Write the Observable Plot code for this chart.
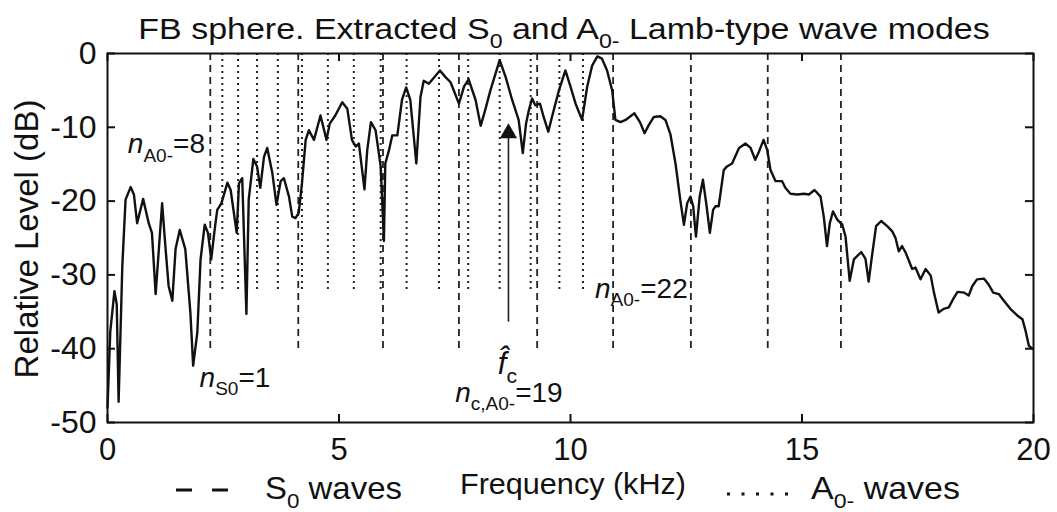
<!DOCTYPE html>
<html>
<head>
<meta charset="utf-8">
<script src="https://cdn.jsdelivr.net/npm/d3@7"></script>
<script src="https://cdn.jsdelivr.net/npm/@observablehq/plot@0.6"></script>
<style>
  html, body { margin: 0; padding: 0; background: #fff; }
  #chart svg { display: block; }
</style>
</head>
<body>
<div id="chart"></div>
<script>
// ---- Data ----
const freq = [0, 0.06, 0.15, 0.2, 0.24, 0.32, 0.39, 0.5, 0.57, 0.64, 0.77, 0.89, 0.96, 1.04, 1.18, 1.25, 1.32, 1.40, 1.47, 1.56, 1.68, 1.79, 1.85, 1.94, 2.01, 2.10, 2.17, 2.24, 2.31, 2.37, 2.46, 2.59, 2.66, 2.79, 2.84, 2.91, 3.0, 3.05, 3.15, 3.23, 3.30, 3.38, 3.45, 3.56, 3.65, 3.74, 3.81, 3.92, 3.99, 4.06, 4.13, 4.20, 4.28, 4.35, 4.46, 4.6, 4.73, 4.80, 4.92, 5.07, 5.18, 5.28, 5.36, 5.43, 5.55, 5.61, 5.69, 5.79, 5.90, 5.97, 6.0, 6.08, 6.15, 6.26, 6.36, 6.45, 6.54, 6.67, 6.76, 6.83, 6.94, 7.18, 7.30, 7.41, 7.59, 7.70, 7.80, 7.95, 8.06, 8.16, 8.27, 8.47, 8.60, 8.74, 8.88, 8.97, 9.04, 9.10, 9.17, 9.24, 9.34, 9.42, 9.52, 9.60, 9.75, 9.89, 10.0, 10.11, 10.25, 10.36, 10.47, 10.58, 10.68, 10.79, 10.9, 10.97, 11.08, 11.19, 11.38, 11.5, 11.6, 11.69, 11.8, 11.94, 12.05, 12.16, 12.27, 12.37, 12.45, 12.52, 12.59, 12.65, 12.71, 12.79, 12.86, 12.94, 13.01, 13.08, 13.13, 13.2, 13.31, 13.38, 13.49, 13.64, 13.78, 13.89, 13.99, 14.07, 14.17, 14.25, 14.32, 14.43, 14.57, 14.64, 14.75, 14.9, 15.04, 15.15, 15.27, 15.4, 15.47, 15.54, 15.6, 15.67, 15.76, 15.87, 15.94, 16.03, 16.12, 16.28, 16.37, 16.44, 16.51, 16.6, 16.71, 16.84, 16.95, 17.02, 17.09, 17.16, 17.24, 17.38, 17.45, 17.56, 17.67, 17.78, 17.85, 17.95, 18.06, 18.17, 18.28, 18.36, 18.5, 18.6, 18.68, 18.78, 18.93, 19.03, 19.13, 19.25, 19.36, 19.5, 19.65, 19.76, 19.83, 19.9, 19.97];
const level = [-48, -37.7, -32.2, -34, -47.2, -28.8, -19.8, -18.1, -19.1, -23.0, -19.7, -23, -24.3, -32.6, -20.3, -26.1, -31.5, -33.5, -26.5, -23.9, -26.5, -35.1, -42.3, -37.8, -27.9, -23.2, -24.3, -27.9, -24.1, -21.2, -20.3, -17.5, -18.5, -24.3, -17.6, -16.9, -35.3, -19.8, -14.3, -15.3, -18.2, -14.0, -12.8, -16.2, -20.5, -17.3, -16.9, -19.4, -22.1, -22.3, -21.6, -17.6, -11.7, -10.4, -11.7, -8.4, -11.7, -9.5, -8.4, -6.6, -7.5, -11.7, -12.6, -12.2, -18.4, -13.1, -9.3, -10.4, -15.3, -25.4, -14.9, -13.1, -11.1, -11.1, -6.3, -4.6, -6.3, -14.9, -5.9, -3.7, -4.1, -2.3, -3.2, -3.9, -6.8, -4.5, -3.5, -6.3, -9.8, -7.6, -5.0, -0.9, -3.2, -6.3, -9.0, -13.5, -9.5, -7.7, -6.1, -7.0, -6.8, -8.6, -10.6, -8.6, -5.0, -2.3, -4.5, -6.8, -9.0, -4.5, -1.6, -0.4, -0.7, -2.3, -5.0, -9.0, -9.3, -9.0, -8.1, -9.3, -10.8, -9.7, -8.6, -8.5, -9.0, -11.0, -15.0, -19.8, -23.2, -20.3, -19.4, -20.7, -24.8, -19.4, -17.1, -20.7, -24.3, -21.2, -20.7, -20.7, -15.8, -15.3, -14.9, -12.8, -12.2, -12.8, -14.4, -13.3, -11.7, -13.1, -15.8, -17.3, -17.3, -18.2, -19.0, -19.1, -19.0, -19.1, -18.5, -19.4, -22.1, -26.1, -23.0, -21.4, -22.5, -23.2, -24.8, -30.8, -27.9, -26.9, -27.8, -30.9, -27.5, -23.4, -22.7, -23.4, -24.1, -25.0, -26.8, -26.1, -27.0, -29.2, -29.0, -30.6, -29.2, -30.1, -32.4, -35.1, -34.6, -34.4, -33.1, -32.3, -32.4, -32.8, -31.5, -30.6, -30.5, -31.3, -32.4, -32.6, -33.5, -34.6, -35.5, -36.0, -37.6, -39.6, -40.0];

const s0Modes = [2.22, 4.12, 5.95, 7.59, 9.28, 10.92, 12.6, 14.26, 15.84];       // dashed
const a0Modes = [2.48, 2.82, 3.23, 3.68, 4.2, 4.76, 5.32, 5.9, 6.46, 7.16, 7.79, 8.47, 9.14, 9.76, 10.27]; // dotted
const s0Bottom = -40;
const a0Bottom = -32;
const fcEstimate = 8.66;
const arrowFrom = -36.4;

const xTicks = [0, 5, 10, 15, 20];
const yTicks = [0, -10, -20, -30, -40, -50];

const titleParts = [["FB sphere. Extracted S"], ["0", "sub"], [" and A"], ["0-", "sub"], [" Lamb-type wave modes"]];
const xLabel = "Frequency (kHz)";
const yLabel = "Relative Level (dB)";

// annotations: [parts, freq, level]
const annotations = [
  [[["n", "it"], ["A0-", "sub"], ["=8"]], 0.45, -13.6],
  [[["n", "it"], ["S0", "sub"], ["=1"]], 2.0, -45.2],
  [[["n", "it"], ["A0-", "sub"], ["=22"]], 10.54, -33.2],
  [[["n", "it"], ["c,A0-", "sub"], ["=19"]], 7.52, -47.3]
];
const fcLabel = [["f\u0302", "it"], ["c", "sub"]];

const spectrum = freq.map((f, i) => ({f, db: level[i]}));

const W = 1057, H = 512;
const mL = 107, mR = 24, mT = 53, mB = 90;
const innerW = W - mL - mR, innerH = H - mT - mB;
const FONT = "'Liberation Sans', Arial, Helvetica, sans-serif";

const plot = Plot.plot({
  width: W, height: H,
  marginLeft: mL, marginRight: mR, marginTop: mT, marginBottom: mB,
  style: {fontFamily: FONT, background: "#fff", color: "#111"},
  x: {domain: [0, 20]},
  y: {domain: [-50, 0]},
  marks: [
    Plot.ruleX(s0Modes, {x: d => d, y1: 0, y2: s0Bottom, stroke: "#222", strokeWidth: 1.8, strokeDasharray: "7,5"}),
    Plot.ruleX(a0Modes, {x: d => d, y1: 0, y2: a0Bottom, stroke: "#222", strokeWidth: 2, strokeDasharray: "2,4"}),
    Plot.line(spectrum, {x: "f", y: "db", stroke: "#111", strokeWidth: 2.4, strokeLinejoin: "round"}),
    Plot.ruleX([fcEstimate], {x: d => d, y1: arrowFrom, y2: -11.3, stroke: "#222", strokeWidth: 1.6}),
    Plot.dot([fcEstimate], {x: d => d, y: -10.8, symbol: "triangle", r: 6.4, fill: "#111", stroke: "none"}),
    // inward ticks on all four sides
    Plot.tickX(xTicks, {x: d => d, insetTop: innerH - 8, stroke: "#111", strokeWidth: 2}),
    Plot.tickX(xTicks, {x: d => d, insetBottom: innerH - 8, stroke: "#111", strokeWidth: 2}),
    Plot.tickY(yTicks, {y: d => d, insetRight: innerW - 8, stroke: "#111", strokeWidth: 2}),
    Plot.tickY(yTicks, {y: d => d, insetLeft: innerW - 8, stroke: "#111", strokeWidth: 2}),
    Plot.frame({stroke: "#111", strokeWidth: 2}),
    Plot.axisX({ticks: xTicks, tickSize: 0, tickPadding: 15, fontSize: 31, label: null, tickFormat: d => String(d)}),
    Plot.axisY({ticks: yTicks, tickSize: 0, tickPadding: 11, fontSize: 32, label: null, tickFormat: d => String(d)})
  ]
});

document.getElementById("chart").appendChild(plot);

const svg = d3.select(plot);
const sx = plot.scale("x"), sy = plot.scale("y");

function richText(parent, parts, x, y, size, anchor, extra) {
  const t = parent.append("text")
    .attr("x", x).attr("y", y)
    .attr("font-size", size)
    .attr("font-family", FONT)
    .attr("fill", "#111")
    .attr("text-anchor", anchor || "start");
  if (extra) extra(t);
  let shifted = false;
  for (const [txt, kind] of parts) {
    const s = t.append("tspan").text(txt);
    if (kind === "sub") {
      s.attr("font-size", size * 0.68).attr("dy", shifted ? 0 : size * 0.3);
      shifted = true;
    } else {
      if (shifted) { s.attr("dy", -size * 0.3); shifted = false; }
      if (kind === "it") s.attr("font-style", "italic");
    }
  }
  return t;
}

// stretch a text horizontally to a target width (the reference font is wider)
function fitWidth(t, target, cx) {
  const w = t.node().getBBox().width;
  if (w > 0) {
    const k = target / w;
    t.attr("transform", `translate(${cx},0) scale(${k},1) translate(${-cx},0)`);
  }
}

// title
const title = richText(svg, titleParts, 564, 39, 30, "middle");
fitWidth(title, 852, 564);
// axis labels
const xl = richText(svg, [[xLabel]], 573, 494, 30, "middle");
fitWidth(xl, 226, 573);
richText(svg, [[yLabel]], 0, 0, 33, "middle", t => t.attr("transform", "translate(38,239) rotate(-90)"));

// legend
const lg = svg.append("g");
lg.append("line").attr("x1", 176).attr("x2", 228).attr("y1", 490).attr("y2", 490)
  .attr("stroke", "#111").attr("stroke-width", 3).attr("stroke-dasharray", "16,20");
const l1 = richText(lg, [["S"], ["0", "sub"], [" waves"]], 265, 499, 31, "start");
fitWidth(l1, 137, 265);
lg.append("line").attr("x1", 727).attr("x2", 790).attr("y1", 494).attr("y2", 494)
  .attr("stroke", "#111").attr("stroke-width", 3).attr("stroke-dasharray", "3,11.5");
const l2 = richText(lg, [["A"], ["0-", "sub"], [" waves"]], 811, 499, 31, "start");
fitWidth(l2, 149, 811);

// annotations
for (const [parts, f, db] of annotations) {
  richText(svg, parts, sx.apply(f), sy.apply(db), 28, "start");
}
// f-hat-c label (f with combining circumflex, subscript c)
richText(svg, fcLabel, sx.apply(8.57) - 6, sy.apply(-43.5), 31, "start");
</script>
</body>
</html>
